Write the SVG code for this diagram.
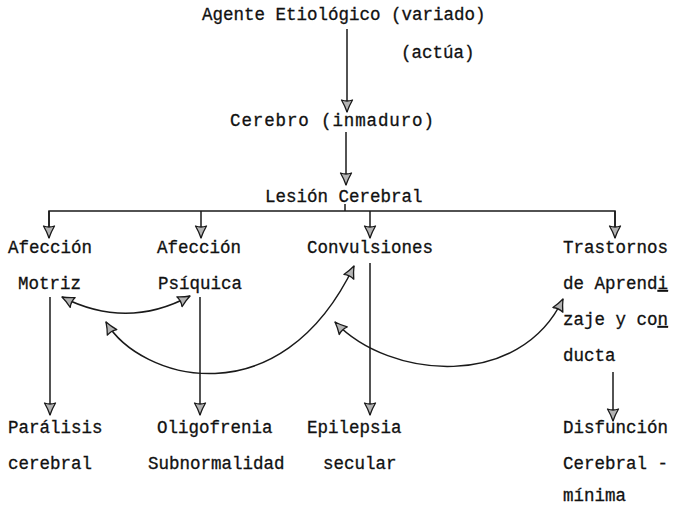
<svg xmlns="http://www.w3.org/2000/svg" width="673" height="505" viewBox="0 0 673 505">
<style>
  text { font-family: "Liberation Mono", "Courier New", monospace; font-size: 17.5px; fill: #111111; stroke: #111111; stroke-width: 0.3; }
  .ln { fill: none; stroke: #1a1a1a; stroke-width: 1.5; }
  .u { text-decoration: underline; }
</style>
<defs>
  <marker id="ah" viewBox="-1 -7 15 14" refX="12" refY="0" markerWidth="15" markerHeight="14" markerUnits="userSpaceOnUse" orient="auto-start-reverse">
    <path d="M0,-5.5 Q6,-2 12,0 Q6,2 0,5.5 Q2,0 0,-5.5 Z" fill="#b4b4b4" stroke="#1a1a1a" stroke-width="1.3" stroke-linejoin="round"/>
  </marker>
</defs>
<rect width="673" height="505" fill="#ffffff"/>

<g id="connectors">
  <line class="ln" x1="347" y1="29" x2="347" y2="112" marker-end="url(#ah)"/>
  <line class="ln" x1="346" y1="132" x2="346" y2="185" marker-end="url(#ah)"/>
  <line class="ln" x1="345" y1="204" x2="345" y2="211"/>
  <polyline class="ln" points="49,238 49,211 615,211 615,238"/>
  <line class="ln" x1="49" y1="211" x2="49" y2="238" marker-end="url(#ah)"/>
  <line class="ln" x1="201" y1="211" x2="201" y2="238" marker-end="url(#ah)"/>
  <line class="ln" x1="370" y1="211" x2="370" y2="238" marker-end="url(#ah)"/>
  <line class="ln" x1="615" y1="211" x2="615" y2="238" marker-end="url(#ah)"/>
  <line class="ln" x1="50" y1="297" x2="50" y2="415" marker-end="url(#ah)"/>
  <line class="ln" x1="200" y1="297" x2="200" y2="415" marker-end="url(#ah)"/>
  <line class="ln" x1="370" y1="263" x2="370" y2="415" marker-end="url(#ah)"/>
  <line class="ln" x1="613" y1="372" x2="613" y2="421" marker-end="url(#ah)"/>
  <path class="ln" d="M62 297 Q127 330 190 296" marker-start="url(#ah)" marker-end="url(#ah)"/>
  <path class="ln" d="M106 322 C140 380 280 420 354 266" marker-start="url(#ah)" marker-end="url(#ah)"/>
  <path class="ln" d="M335 322 C390 380 520 390 563 299" marker-start="url(#ah)" marker-end="url(#ah)"/>
</g>

<g id="agente"><text x="202" y="20">Agente Etiológico (variado)</text></g>
<g id="actua"><text x="401" y="58">(actúa)</text></g>
<g id="cerebro"><text x="230" y="126" textLength="204" lengthAdjust="spacing">Cerebro (inmaduro)</text></g>
<g id="lesion"><text x="265" y="202">Lesión Cerebral</text></g>
<g id="motriz"><text x="8" y="253">Afección</text><text x="18" y="289">Motriz</text></g>
<g id="psiquica"><text x="157" y="253">Afección</text><text x="158" y="289">Psíquica</text></g>
<g id="convulsiones"><text x="307" y="253">Convulsiones</text></g>
<g id="trastornos"><text x="563" y="253">Trastornos</text><text x="563" y="289">de Aprend<tspan class="u">i</tspan></text><text x="563" y="325">zaje y co<tspan class="u">n</tspan></text><text x="563" y="361">ducta</text></g>
<g id="paralisis"><text x="8" y="433">Parálisis</text><text x="8" y="469">cerebral</text></g>
<g id="oligofrenia"><text x="157" y="433">Oligofrenia</text><text x="148" y="469">Subnormalidad</text></g>
<g id="epilepsia"><text x="307" y="433">Epilepsia</text><text x="323" y="469">secular</text></g>
<g id="disfuncion"><text x="563" y="433">Disfunción</text><text x="563" y="469">Cerebral -</text><text x="563" y="501">mínima</text></g>
</svg>
